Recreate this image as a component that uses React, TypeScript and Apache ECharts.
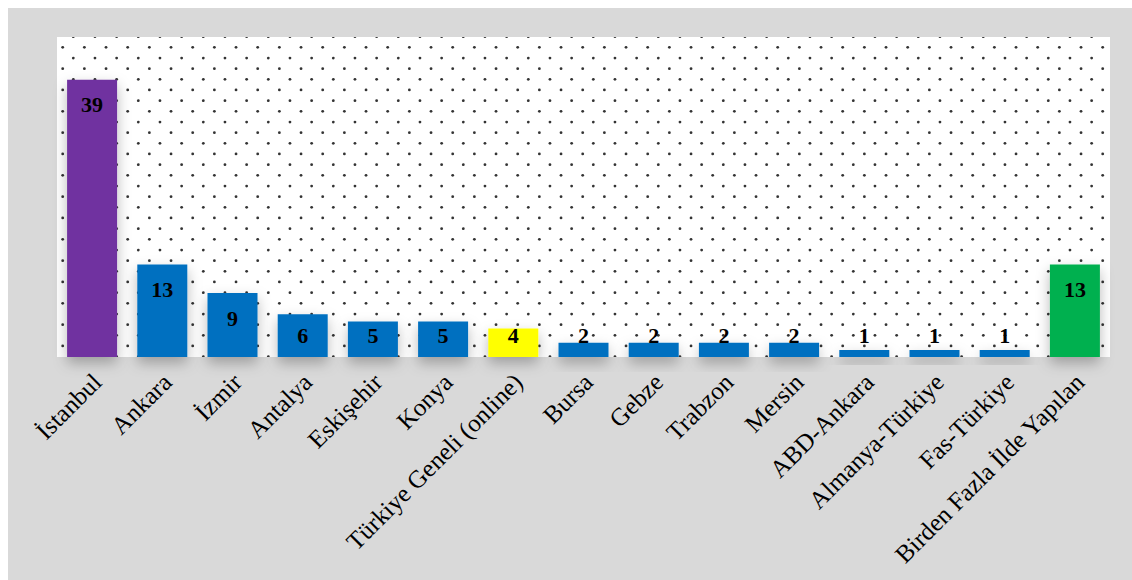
import React, { useEffect, useRef } from "react";
import * as echarts from "echarts";

const categories = [
  "İstanbul",
  "Ankara",
  "İzmir",
  "Antalya",
  "Eskişehir",
  "Konya",
  "Türkiye Geneli (online)",
  "Bursa",
  "Gebze",
  "Trabzon",
  "Mersin",
  "ABD-Ankara",
  "Almanya-Türkiye",
  "Fas-Türkiye",
  "Birden Fazla İlde Yapılan",
];
const values = [39, 13, 9, 6, 5, 5, 4, 2, 2, 2, 2, 1, 1, 1, 13];
const barColors = [
  "#7030A0",
  "#0070C0",
  "#0070C0",
  "#0070C0",
  "#0070C0",
  "#0070C0",
  "#FFFF00",
  "#0070C0",
  "#0070C0",
  "#0070C0",
  "#0070C0",
  "#0070C0",
  "#0070C0",
  "#0070C0",
  "#00B050",
];

function makeDotTile(): HTMLCanvasElement {
  const w = 65;
  const h = 64;
  const c = document.createElement("canvas");
  c.width = w;
  c.height = h;
  const ctx = c.getContext("2d")!;
  ctx.fillStyle = "#ffffff";
  ctx.fillRect(0, 0, w, h);
  const px = w / 3;
  const py = h / 3;
  const bases = [
    [11.37, 17.97],
    [0.3, 7.37],
  ];
  ctx.fillStyle = "#333333";
  for (const [bx, by] of bases) {
    for (let i = -1; i <= 3; i++) {
      for (let j = -1; j <= 3; j++) {
        const x = bx + i * px;
        const y = by + j * py;
        ctx.beginPath();
        ctx.arc(x, y, 1.4, 0, Math.PI * 2);
        ctx.fill();
      }
    }
  }
  return c;
}

export default function App() {
  const ref = useRef<HTMLDivElement>(null);
  useEffect(() => {
    if (!ref.current) return;
    const chart = echarts.init(ref.current, null, { renderer: "svg" });
    const tile = makeDotTile();
    const serif = "'Liberation Serif', 'Times New Roman', serif";
    const data = values.map((v, i) => ({
      value: v,
      itemStyle: { color: barColors[i] },
      label:
        v >= 9
          ? { position: "insideTop", distance: 14 }
          : { position: "insideBottom", distance: 11 },
    }));
    chart.setOption({
      animation: false,
      backgroundColor: "#d9d9d9",
      grid: {
        left: 49,
        right: 22,
        top: 29,
        bottom: 223,
        show: true,
        borderWidth: 0,
        backgroundColor: {
          image: tile,
          repeat: "repeat",
          imageWidth: 65,
          imageHeight: 64,
        } as any,
      },
      xAxis: {
        type: "category",
        data: categories,
        axisLine: { show: false },
        axisTick: { show: false },
        axisLabel: {
          interval: 0,
          rotate: 45,
          margin: 16,
          verticalAlign: "top",
          lineHeight: 14,
          color: "#000",
          fontFamily: serif,
          fontSize: 25,
        },
      },
      yAxis: {
        type: "value",
        min: 0,
        max: 45,
        interval: 5,
        axisLabel: { show: false },
        axisLine: { show: false },
        axisTick: { show: false },
        splitLine: { show: false },
      },
      series: [
        {
          type: "bar",
          data,
          barWidth: 50,
          itemStyle: {
            shadowBlur: 14,
            shadowColor: "rgba(0,0,0,0.28)",
            shadowOffsetY: 6,
          },
          label: {
            show: true,
            color: "#000",
            fontFamily: serif,
            fontWeight: "bold",
            fontSize: 22,
          },
        },
      ],
    });
    return () => chart.dispose();
  }, []);
  return (
    <div
      style={{
        position: "fixed",
        left: 0,
        top: 0,
        width: 1132,
        height: 580,
        background: "#fff",
      }}
    >
      <div
        ref={ref}
        style={{ position: "absolute", left: 8, top: 8, width: 1124, height: 572 }}
      />
    </div>
  );
}
